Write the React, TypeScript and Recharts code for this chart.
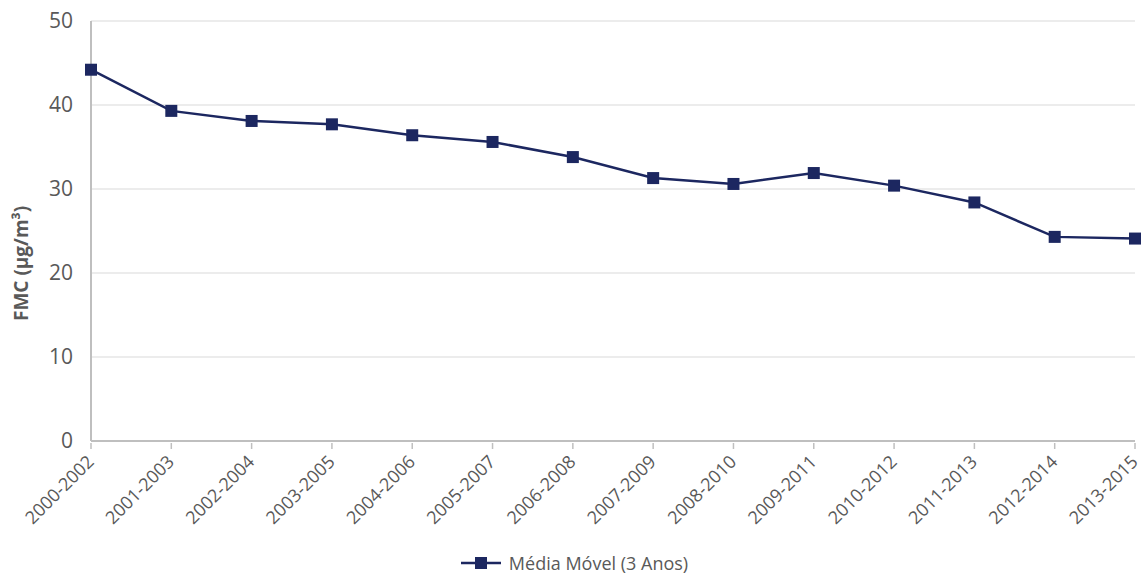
import React from 'react';
import { LineChart, Line, XAxis, YAxis, CartesianGrid, Legend } from 'recharts';

const periods = [
  '2000-2002', '2001-2003', '2002-2004', '2003-2005', '2004-2006', '2005-2007', '2006-2008',
  '2007-2009', '2008-2010', '2009-2011', '2010-2012', '2011-2013', '2012-2014', '2013-2015',
];
const movingAverage = [44.2, 39.3, 38.1, 37.7, 36.4, 35.6, 33.8, 31.3, 30.6, 31.9, 30.4, 28.4, 24.3, 24.1];
const yTicks = [0, 10, 20, 30, 40, 50];

const data = periods.map((period, i) => ({ period, value: movingAverage[i] }));

const FONT = '"Open Sans", "Noto Sans", sans-serif';
const NAVY = '#1c2760';
const GRAY = '#595959';

function SquareDot(props: any) {
  const { cx, cy } = props;
  if (cx == null || cy == null) return null;
  return <rect x={cx - 6} y={cy - 6} width={12} height={12} fill={NAVY} />;
}

function XTick(props: any) {
  const { x, y, payload } = props;
  return (
    <g>
      <line x1={x} y1={y} x2={x} y2={y - 6} stroke="#bfbfbf" strokeWidth={1.5} />
      <text
        x={x + 4}
        y={y + 14}
        textAnchor="end"
        fill={GRAY}
        fontSize={18}
        fontFamily={FONT}
        transform={`rotate(-45, ${x + 4}, ${y + 14})`}
      >
        {payload.value}
      </text>
    </g>
  );
}

function LegendContent() {
  return (
    <div style={{ display: 'flex', justifyContent: 'center', alignItems: 'center', fontFamily: FONT, paddingLeft: 14, marginTop: 3 }}>
      <svg width={40} height={16} style={{ marginRight: 8 }}>
        <line x1={0} y1={8} x2={40} y2={8} stroke={NAVY} strokeWidth={2.5} />
        <rect x={14} y={2} width={12} height={12} fill={NAVY} />
      </svg>
      <span style={{ fontSize: 18, color: GRAY }}>Média Móvel (3 Anos)</span>
    </div>
  );
}

export default function App() {
  return (
    <div style={{ position: 'absolute', left: 0, top: 0, width: 1142, height: 576, background: '#fff' }}>
      <LineChart width={1142} height={576} data={data} margin={{ top: 21, right: 7, bottom: 0, left: 0 }}>
        <CartesianGrid vertical={false} stroke="#d9d9d9" strokeWidth={1.2} />
        <XAxis
          dataKey="period"
          interval={0}
          height={107}
          padding={{ left: 0, right: 0 }}
          stroke="#bfbfbf"
          strokeWidth={2}
          tickLine={false}
          tick={<XTick />}
        />
        <YAxis
          domain={[0, 50]}
          ticks={yTicks}
          width={91}
          stroke="#bfbfbf"
          strokeWidth={2}
          tickLine={false}
          tick={{ fill: GRAY, fontSize: 21, fontFamily: FONT }}
          tickMargin={12}
          label={{
            value: 'FMC (µg/m³)',
            angle: -90,
            position: 'insideLeft',
            dx: 16,
            dy: 90,
            style: { fill: GRAY, fontSize: 19, fontWeight: 'bold', fontFamily: FONT },
          }}
        />
        <Legend verticalAlign="bottom" height={28} content={<LegendContent />} />
        <Line
          type="linear"
          dataKey="value"
          name="Média Móvel (3 Anos)"
          stroke={NAVY}
          strokeWidth={2.5}
          dot={<SquareDot />}
          activeDot={false}
          isAnimationActive={false}
        />
      </LineChart>
    </div>
  );
}
